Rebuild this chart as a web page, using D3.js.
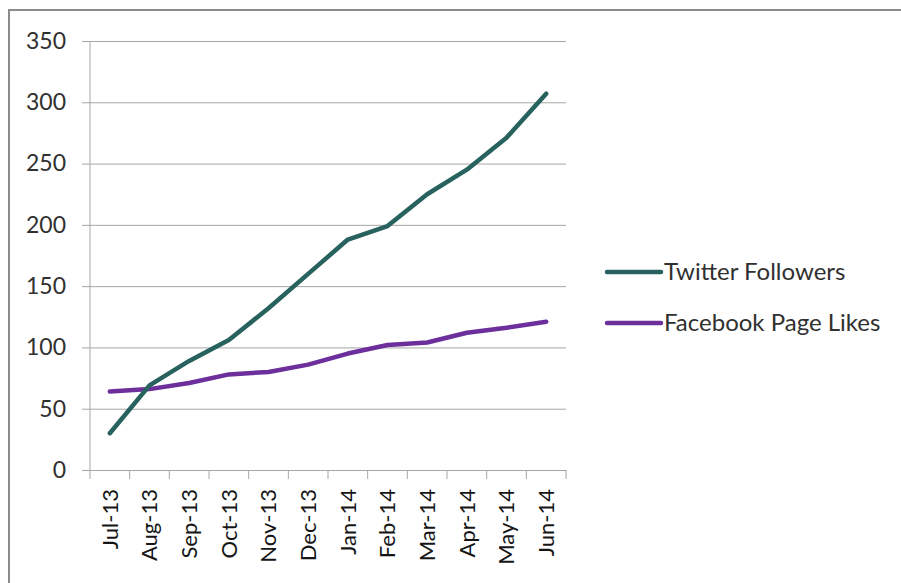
<!DOCTYPE html>
<html>
<head>
<meta charset="utf-8">
<script src="https://cdn.jsdelivr.net/npm/d3@7"></script>
<style>
  body { margin: 0; background: #fff; }
  svg { display: block; }
</style>
</head>
<body>
<div id="chart"></div>
<script>
// chart data
const months = ['Jul-13', 'Aug-13', 'Sep-13', 'Oct-13', 'Nov-13', 'Dec-13',
  'Jan-14', 'Feb-14', 'Mar-14', 'Apr-14', 'May-14', 'Jun-14'];
const twitterFollowers = [30, 69, 89, 106, 132, 160, 188, 199, 225, 245, 271, 307];
const facebookLikes = [64, 66, 71, 78, 80, 86, 95, 102, 104, 112, 116, 121];
const yTicks = [0, 50, 100, 150, 200, 250, 300, 350];
const seriesNames = ['Twitter Followers', 'Facebook Page Likes'];

const width = 901;
const height = 583;
const font = 'Lato, "Open Sans", sans-serif';

const svg = d3.select('#chart')
  .append('svg')
  .attr('width', width)
  .attr('height', height);

// outer frame
svg.append('rect')
  .attr('x', 9)
  .attr('y', 10)
  .attr('width', 900)
  .attr('height', 600)
  .attr('fill', '#fff')
  .attr('stroke', '#8c8c8c')
  .attr('stroke-width', 2);

const margin = { top: 41, left: 90 };
const plotW = 476;
const plotH = 429;

const g = svg.append('g')
  .attr('transform', `translate(${margin.left},${margin.top})`);

const x = d3.scaleBand().domain(months).range([0, plotW]);
const y = d3.scaleLinear().domain([0, 350]).range([plotH, 0]);

// y axis with gridlines
const yAxis = g.append('g')
  .call(d3.axisLeft(y).tickValues(yTicks).tickSize(-plotW).tickSizeOuter(0));
yAxis.select('.domain').remove();
yAxis.selectAll('.tick line')
  .attr('x1', -8)
  .attr('stroke', '#a6a6a6');
yAxis.selectAll('.tick text')
  .attr('x', -24)
  .attr('fill', '#303030')
  .style('font-family', font)
  .style('font-size', '23px');

// vertical axis line
g.append('line')
  .attr('x1', 0).attr('x2', 0)
  .attr('y1', 0).attr('y2', plotH)
  .attr('stroke', '#a6a6a6');

// x axis
const xAxis = g.append('g')
  .attr('transform', `translate(0,${plotH})`)
  .call(d3.axisBottom(x).tickSize(0).tickSizeOuter(0));
xAxis.select('.domain').attr('stroke', '#a6a6a6');
xAxis.selectAll('.tick text')
  .attr('transform', 'rotate(-90)')
  .attr('x', -19)
  .attr('y', 0)
  .attr('dy', '0.35em')
  .style('text-anchor', 'end')
  .attr('fill', '#151515')
  .style('font-family', font)
  .style('font-size', '22px');

// category boundary ticks
xAxis.selectAll('.sep')
  .data(months.concat(['end']))
  .enter()
  .append('line')
  .attr('class', 'sep')
  .attr('x1', (d, i) => i * x.bandwidth())
  .attr('x2', (d, i) => i * x.bandwidth())
  .attr('y1', 0)
  .attr('y2', 9)
  .attr('stroke', '#a6a6a6');

const series = [
  { name: seriesNames[0], values: twitterFollowers, color: '#27625e' },
  { name: seriesNames[1], values: facebookLikes, color: '#6c2f9c' },
];

const line = d3.line()
  .x((d, i) => x(months[i]) + x.bandwidth() / 2)
  .y((d) => y(d));

g.selectAll('.series')
  .data(series.slice().reverse())
  .enter()
  .append('path')
  .attr('class', 'series')
  .attr('d', (d) => line(d.values))
  .attr('fill', 'none')
  .attr('stroke', (d) => d.color)
  .attr('stroke-width', 4.5)
  .attr('stroke-linecap', 'round')
  .attr('stroke-linejoin', 'round');

// legend
const legend = svg.append('g')
  .attr('transform', 'translate(607,272)');
const items = legend.selectAll('.item')
  .data(series)
  .enter()
  .append('g')
  .attr('class', 'item')
  .attr('transform', (d, i) => `translate(0,${i * 51})`);
items.append('line')
  .attr('x1', 0).attr('x2', 54)
  .attr('stroke', (d) => d.color)
  .attr('stroke-width', 4.5)
  .attr('stroke-linecap', 'round');
items.append('text')
  .attr('x', 57)
  .attr('dy', '0.35em')
  .attr('fill', '#303030')
  .style('font-family', font)
  .style('font-size', '24px')
  .text((d) => d.name);
</script>
</body>
</html>
